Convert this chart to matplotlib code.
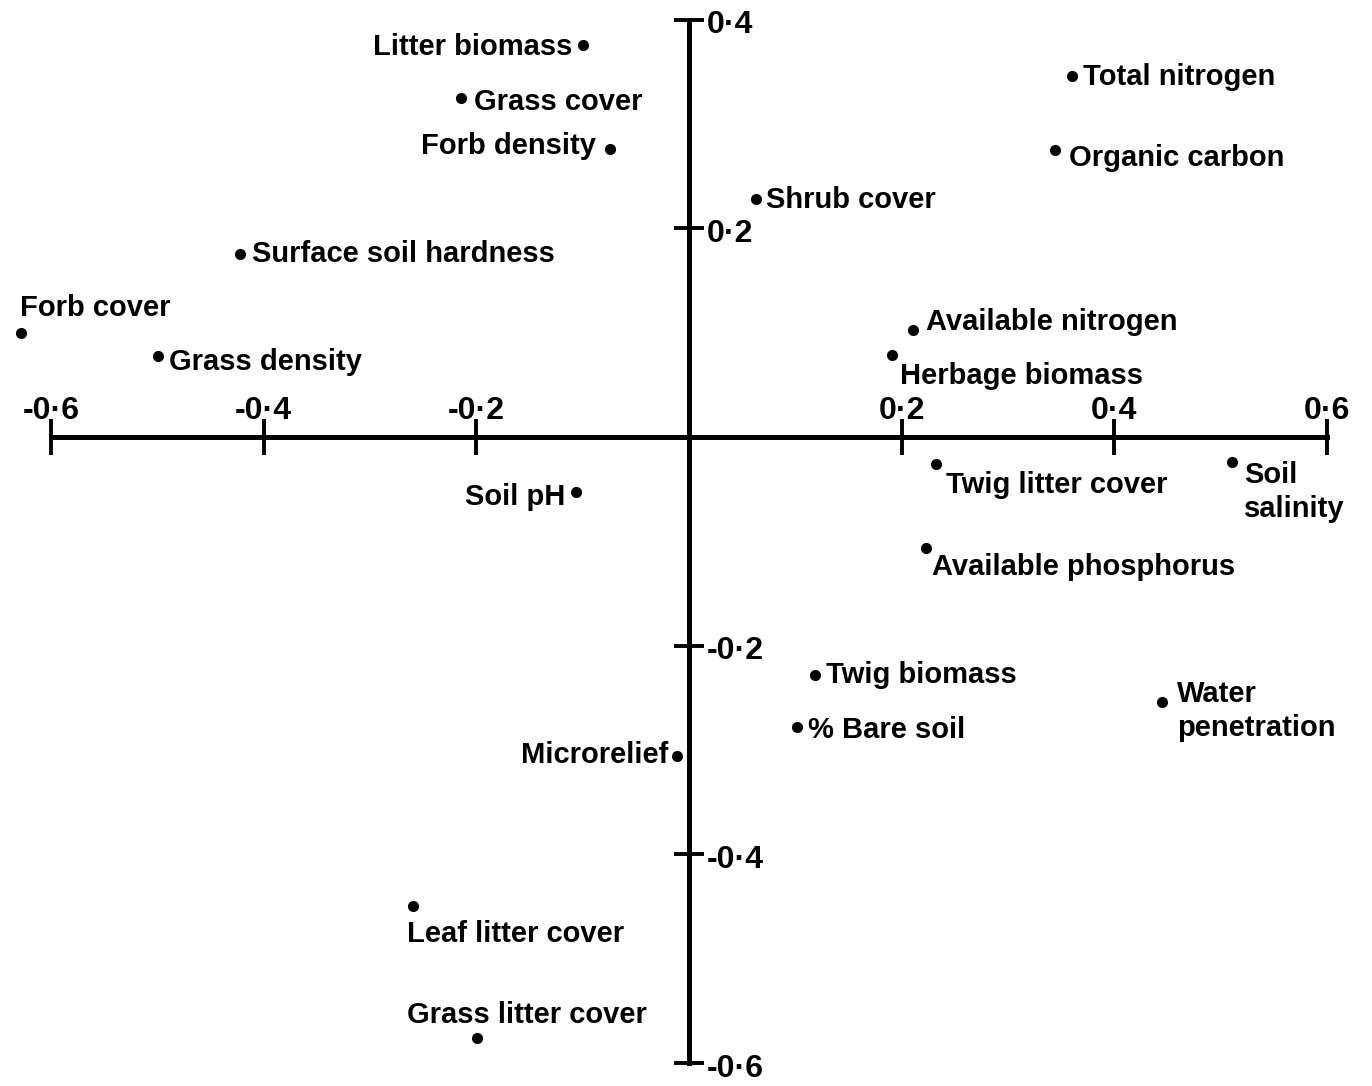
import matplotlib
matplotlib.use("Agg")
import matplotlib.pyplot as plt
from matplotlib.transforms import ScaledTranslation

# ---- data ----
labels = ["Litter biomass", "Grass cover", "Forb density", "Shrub cover",
          "Surface soil hardness", "Forb cover", "Grass density",
          "Total nitrogen", "Organic carbon", "Available nitrogen",
          "Herbage biomass", "Twig litter cover", "Soil\nsalinity",
          "Available phosphorus", "Soil pH", "Twig biomass",
          "Water\npenetration", "% Bare soil", "Microrelief",
          "Leaf litter cover", "Grass litter cover"]
x_vals = [-0.100, -0.214, -0.074, 0.063, -0.422, -0.628, -0.499,
          0.360, 0.344, 0.211, 0.191, 0.232, 0.511,
          0.223, -0.106, 0.119, 0.445, 0.102, -0.011,
          -0.260, -0.199]
y_vals = [0.376, 0.325, 0.276, 0.228, 0.176, 0.100, 0.078,
          0.346, 0.275, 0.103, 0.079, -0.026, -0.024,
          -0.106, -0.053, -0.228, -0.254, -0.278, -0.306,
          -0.449, -0.576]
x_ticks = [-0.6, -0.4, -0.2, 0.2, 0.4, 0.6]
x_tick_labels = ["-0\u00b76", "-0\u00b74", "-0\u00b72", "0\u00b72", "0\u00b74", "0\u00b76"]
y_ticks = [0.4, 0.2, -0.2, -0.4, -0.6]
y_tick_labels = ["0\u00b74", "0\u00b72", "-0\u00b72", "-0\u00b74", "-0\u00b76"]

# ---- label placement (offset pixels, alignment) ----
label_layout = [(-10, -2, "right"), (13, -4, "left"), (-14, 3, "right"), (10, -1, "left"),
                (12, 0, "left"), (-1, 25, "left"), (11, -6, "left"),
                (11, -1, "left"), (14, -8, "left"), (13, 8, "left"),
                (8, -21, "left"), (10, -21, "left"), (12, -30, "left"),
                (6, -19, "left"), (-11, -5, "right"), (11, 0, "left"),
                (15, -9, "left"), (11, -3, "left"), (-9, 1, "right"),
                (-6, -28, "left"), (-70, 23, "left")]

plt.rcParams['font.family'] = ['Liberation Sans', 'DejaVu Sans']
plt.rcParams['font.weight'] = 'bold'
FS = 21
TFS = 23

fig = plt.figure(figsize=(13.72, 10.86), dpi=100)
ax = fig.add_axes([0, 0, 1, 1])
ax.set_xlim(-0.648, 0.6425)
ax.set_ylim(-0.622, 0.419)

for side in ["left", "bottom", "right", "top"]:
    ax.spines[side].set_position(("data", 0))
ax.spines["top"].set_visible(False)
ax.spines["right"].set_visible(False)
ax.spines["left"].set_linewidth(3.6)
ax.spines["bottom"].set_linewidth(3.6)
ax.spines["bottom"].set_bounds(-0.6, 0.6)
ax.spines["left"].set_bounds(-0.6, 0.4)

ax.set_xticks(x_ticks)
ax.set_xticklabels(x_tick_labels)
ax.set_yticks(y_ticks)
ax.set_yticklabels(y_tick_labels)
ax.tick_params(axis="x", direction="inout", length=26, width=2.8, bottom=True, top=False,
               labelbottom=False, labeltop=True, pad=-5, labelsize=TFS)
ax.tick_params(axis="y", direction="inout", length=22, width=2.8, left=True, right=False,
               labelleft=False, labelright=True, pad=2, labelsize=TFS)
shift_down = ScaledTranslation(0, -4 / 72, fig.dpi_scale_trans)
for t in ax.get_yticklabels():
    t.set_verticalalignment("center")
    t.set_transform(t.get_transform() + shift_down)

ax.plot(x_vals, y_vals, "o", color="black", markersize=7, linestyle="none", clip_on=False)

for lab, xv, yv, (dx, dy, ha) in zip(labels, x_vals, y_vals, label_layout):
    ax.annotate(lab, (xv, yv), xytext=(dx, dy), textcoords="offset pixels",
                ha=ha, va="center", fontsize=FS, fontweight="bold",
                linespacing=1.3, annotation_clip=False)

fig.savefig("out.png", dpi=100, facecolor="white")
